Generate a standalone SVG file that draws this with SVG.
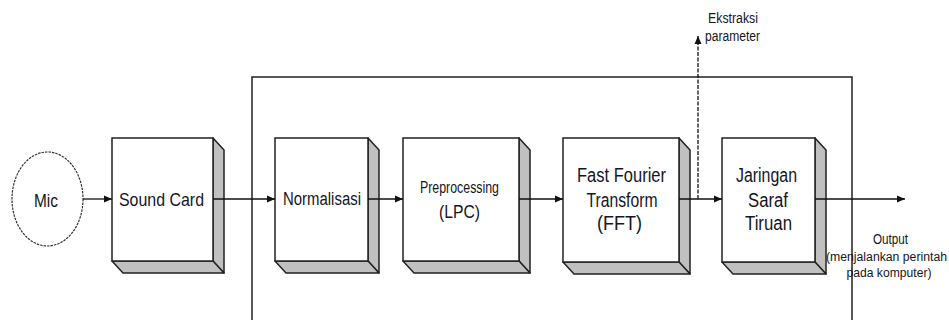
<svg xmlns="http://www.w3.org/2000/svg" width="949" height="320" viewBox="0 0 949 320">
<style>
.front{fill:#fff;stroke:#222;stroke-width:1.5}
.side{fill:#c0c0c0;stroke:#222;stroke-width:1.5;stroke-linejoin:round}
.t{font-family:"Liberation Sans Narrow","Liberation Sans",Arial,sans-serif;fill:#151525;text-anchor:middle}
.c{stroke:#111;stroke-width:1.3;fill:none}
</style>
<defs>
<marker id="ah" markerUnits="userSpaceOnUse" markerWidth="10" markerHeight="8" refX="8" refY="4" orient="auto">
<path d="M0,0.5 L8,4 L0,7.5 Z" fill="#111"/>
</marker>
</defs>
<rect width="949" height="320" fill="#fff"/>
<g id="container">
<path d="M252,322 V77 H852 V322" fill="none" stroke="#222" stroke-width="1.5"/>
</g>
<g id="mic">
<ellipse cx="47.5" cy="199" rx="35.5" ry="47" fill="#fff" stroke="#333" stroke-width="1.2" stroke-dasharray="2.5 1"/>
<text class="t" x="46" y="207" font-size="19" textLength="24" lengthAdjust="spacingAndGlyphs">Mic</text>
</g>
<g id="soundcard">
<path class="side" d="M213,138 L224,150 L224,273 L213,261 Z"/>
<path class="side" d="M112,261 L213,261 L224,273 L123,273 Z"/>
<rect class="front" x="112" y="138" width="101" height="123"/>
<text class="t" x="161.5" y="206" font-size="19" textLength="85" lengthAdjust="spacingAndGlyphs">Sound Card</text>
</g>
<g id="normalisasi">
<path class="side" d="M368,138 L379,150 L379,273 L368,261 Z"/>
<path class="side" d="M275,261 L368,261 L379,273 L286,273 Z"/>
<rect class="front" x="275" y="138" width="93" height="123"/>
<text class="t" x="322" y="205" font-size="18" textLength="78" lengthAdjust="spacingAndGlyphs">Normalisasi</text>
</g>
<g id="preprocessing">
<path class="side" d="M519,138 L530,150 L530,273 L519,261 Z"/>
<path class="side" d="M403,261 L519,261 L530,273 L414,273 Z"/>
<rect class="front" x="403" y="138" width="116" height="123"/>
<text class="t" x="459.5" y="193" font-size="16" textLength="79" lengthAdjust="spacingAndGlyphs">Preprocessing</text>
<text class="t" x="459.5" y="218" font-size="19" textLength="41" lengthAdjust="spacingAndGlyphs">(LPC)</text>
</g>
<g id="fft">
<path class="side" d="M679,138 L690,150 L690,274 L679,262 Z"/>
<path class="side" d="M563,262 L679,262 L690,274 L574,274 Z"/>
<rect class="front" x="563" y="138" width="116" height="124"/>
<text class="t" x="621.5" y="182" font-size="20" textLength="89" lengthAdjust="spacingAndGlyphs">Fast Fourier</text>
<text class="t" x="622" y="207" font-size="20" textLength="71" lengthAdjust="spacingAndGlyphs">Transform</text>
<text class="t" x="619.5" y="230" font-size="20" textLength="45" lengthAdjust="spacingAndGlyphs">(FFT)</text>
</g>
<g id="jst">
<path class="side" d="M815,138 L826,150 L826,274 L815,262 Z"/>
<path class="side" d="M722,262 L815,262 L826,274 L733,274 Z"/>
<rect class="front" x="722" y="138" width="93" height="124"/>
<text class="t" x="766.5" y="182" font-size="20" textLength="61" lengthAdjust="spacingAndGlyphs">Jaringan</text>
<text class="t" x="768" y="207" font-size="20" textLength="40" lengthAdjust="spacingAndGlyphs">Saraf</text>
<text class="t" x="768.5" y="230" font-size="20" textLength="47" lengthAdjust="spacingAndGlyphs">Tiruan</text>
</g>
<g id="labels">
<text class="t" x="733" y="23" font-size="14" textLength="50" lengthAdjust="spacingAndGlyphs">Ekstraksi</text>
<text class="t" x="732.5" y="41" font-size="14" textLength="55" lengthAdjust="spacingAndGlyphs">parameter</text>
<text class="t" x="890.5" y="244" font-size="14" textLength="35" lengthAdjust="spacingAndGlyphs">Output</text>
<text class="t" x="886.5" y="261" font-size="12.5" textLength="121" lengthAdjust="spacingAndGlyphs">(menjalankan perintah</text>
<text class="t" x="889" y="277" font-size="13" textLength="85" lengthAdjust="spacingAndGlyphs">pada komputer)</text>
</g>
<g id="connectors">
<line class="c" x1="83" y1="199" x2="112" y2="199" marker-end="url(#ah)"/>
<line class="c" x1="213" y1="199" x2="275" y2="199" marker-end="url(#ah)"/>
<line class="c" x1="368" y1="199" x2="403" y2="199" marker-end="url(#ah)"/>
<line class="c" x1="519" y1="199" x2="563" y2="199" marker-end="url(#ah)"/>
<line class="c" x1="679" y1="199" x2="722" y2="199" marker-end="url(#ah)"/>
<line class="c" x1="698" y1="199" x2="698" y2="36" stroke-dasharray="4 1.5" marker-end="url(#ah)"/>
<line class="c" x1="815" y1="199" x2="905" y2="199" marker-end="url(#ah)"/>
</g>
</svg>
